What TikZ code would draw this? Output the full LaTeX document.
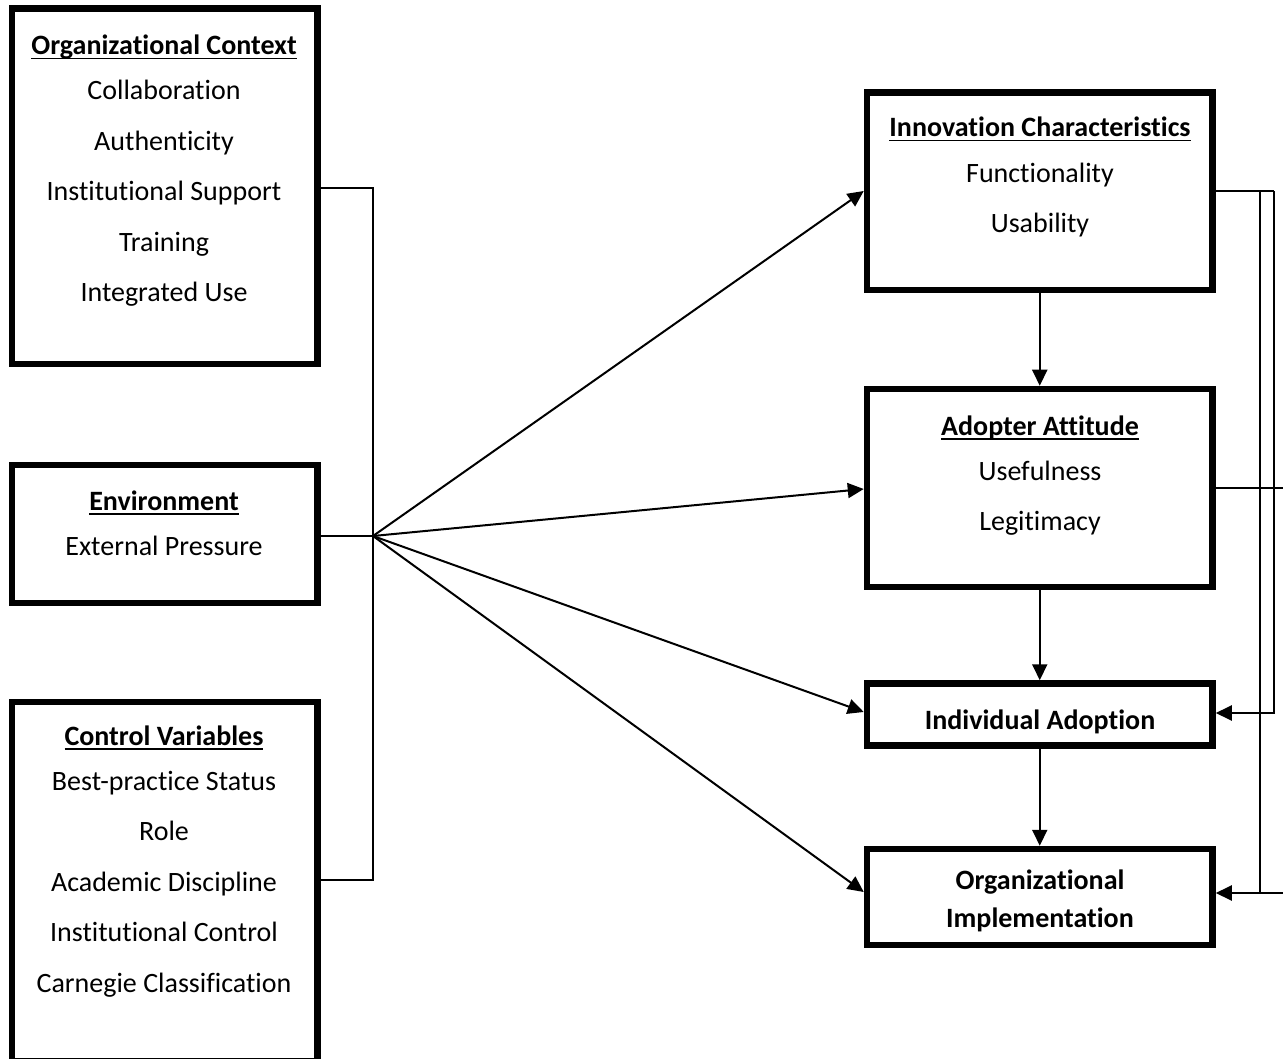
\documentclass[tikz,border=0pt]{standalone}
\usepackage{fontspec}
\setmainfont[Ligatures={NoCommon}]{Carlito}
\usetikzlibrary{arrows.meta}
\newcommand\myul[1]{\setbox0\hbox{#1}\rlap{\rule[-4.5pt]{\wd0}{1.8pt}}\box0}
\begin{document}
\begin{tikzpicture}[x=1pt,y=-1pt,
  box/.style={draw,line width=6.5pt,minimum width=305.5pt},
  rbox/.style={draw,line width=6.5pt,minimum width=345.5pt},
  txt/.style={anchor=base,inner sep=0pt,font=\fontsize{28}{32}\selectfont},
  ttl/.style={txt,font=\fontsize{28}{32}\selectfont\bfseries},
  con/.style={line width=2pt},
  arr/.style={line width=2pt,-{Triangle[length=16pt,width=15pt]}}]
\useasboundingbox (0,0) rectangle (1283,1059);
% left boxes
\node[box,minimum height=355.5pt] (org) at (164.75,186.25) {};
\node[box,minimum height=138pt] (env) at (164.75,534) {};
\node[box,minimum height=359pt] (ctl) at (164.75,881.5) {};
% right boxes
\node[rbox,minimum height=197.5pt] (inn) at (1039.75,191.25) {};
\node[rbox,minimum height=198pt] (att) at (1039.75,488) {};
\node[rbox,minimum height=62pt] (ind) at (1039.75,714.5) {};
\node[rbox,minimum height=96pt] (imp) at (1039.75,897) {};
% texts
\node[ttl] (t1) at (164,55) {\myul{Organizational Context}};
\node[txt] (t2) at (164,100) {Collaboration};
\node[txt] (t3) at (164,150.5) {Authenticity};
\node[txt] (t4) at (164,201) {Institutional Support};
\node[txt] (t5) at (164,251.5) {Training};
\node[txt] (t6) at (164,302) {Integrated Use};
\node[ttl] (e1) at (164,510) {\myul{Environment}};
\node[txt] (e2) at (164,555) {External Pressure};
\node[ttl] (c1) at (164,745) {\myul{Control Variables}};
\node[txt] (c2) at (164,790) {Best-practice Status};
\node[txt] (c3) at (164,840.5) {Role};
\node[txt] (c4) at (164,891) {Academic Discipline};
\node[txt] (c5) at (164,941.5) {Institutional Control};
\node[txt] (c6) at (164,992) {Carnegie Classification};
\node[ttl] (i1) at (1040,137) {\myul{Innovation Characteristics}};
\node[txt] (i2) at (1040,183) {Functionality};
\node[txt] (i3) at (1040,233) {Usability};
\node[ttl] (a1) at (1040,435) {\myul{Adopter Attitude}};
\node[txt] (a2) at (1040,480) {Usefulness};
\node[txt] (a3) at (1040,530) {Legitimacy};
\node[ttl] (d1) at (1040,729) {Individual Adoption};
\node[ttl] (m1) at (1040,889) {Organizational};
\node[ttl] (m2) at (1040,927) {Implementation};
% left connectors
\coordinate (top) at (373,188);
\coordinate (hub) at (373,536);
\coordinate (bot) at (373,880);
\draw[con] (org.east |- top) -- (top) -- (bot) -- (ctl.east |- bot);
\draw[con] (env.east |- hub) -- (hub);
\draw[arr] (hub) -- (inn.west |- 0,191);
\draw[arr] (hub) -- (att.west |- 0,489);
\draw[arr] (hub) -- (ind.west |- 0,712);
\draw[arr] (hub) -- (imp.west |- 0,892);
% vertical arrows
\draw[arr] (inn.south) -- (att.north);
\draw[arr] (att.south) -- (ind.north);
\draw[arr] (ind.south) -- (imp.north);
% right connectors
\coordinate (r1) at (1274,191);
\coordinate (r2) at (1260,191);
\coordinate (r3) at (1274,713);
\coordinate (r4) at (1260,893);
\coordinate (r5) at (1283,893);
\coordinate (r6) at (1283,488);
\draw[con] (inn.east |- r1) -- (r1);
\draw[arr] (r1) -- (r3) -- (ind.east |- r3);
\draw[con] (r2) -- (r4);
\draw[arr] (r5) -- (imp.east |- r5);
\draw[con] (att.east |- r6) -- (r6);
\end{tikzpicture}
\end{document}
